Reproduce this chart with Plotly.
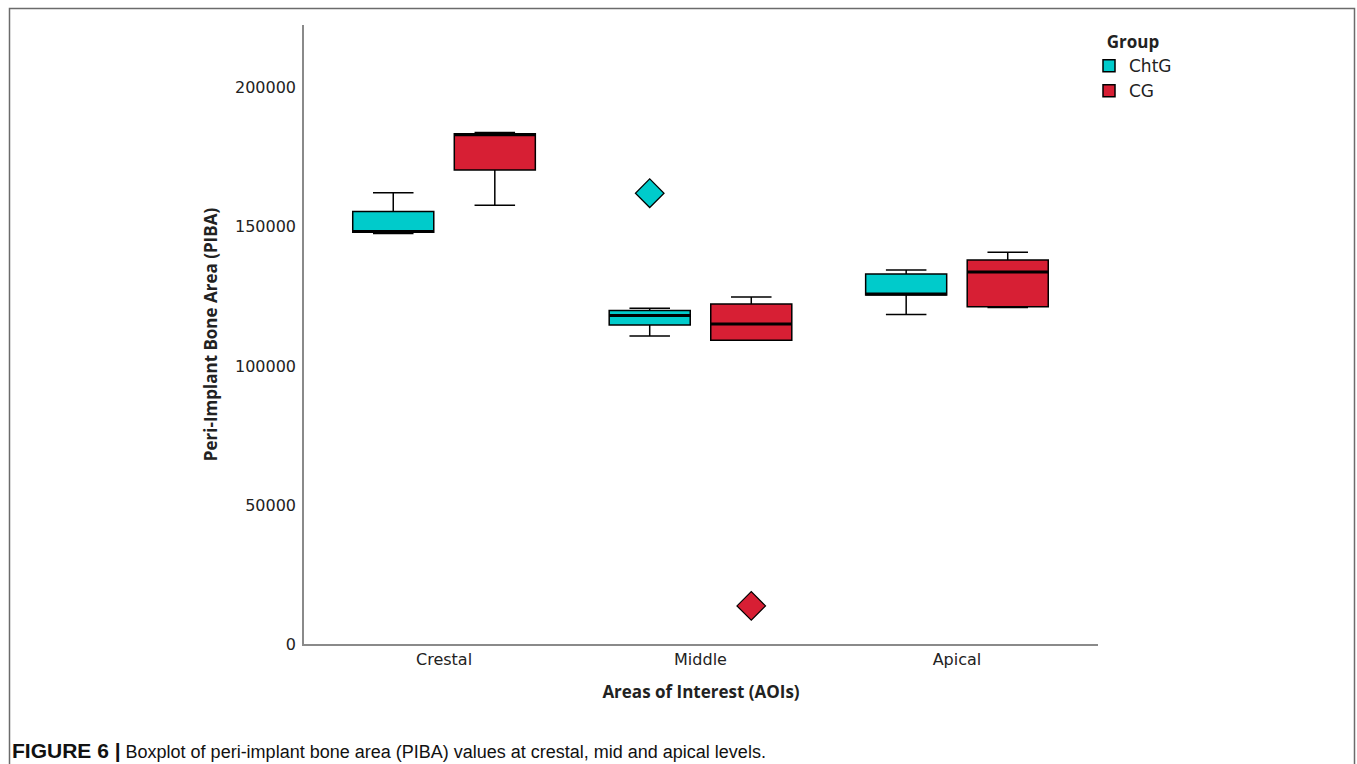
import plotly.graph_objects as go

# ---- data ----
categories = ["Crestal", "Middle", "Apical"]
groups = ["ChtG", "CG"]

chtg_lower = [147600, 110800, 118500]
chtg_q1 = [148100, 114700, 125500]
chtg_median = [148300, 118100, 125900]
chtg_q3 = [155500, 119900, 133100]
chtg_upper = [162300, 120700, 134500]

cg_lower = [157800, 109200, 121000]
cg_q1 = [170500, 109200, 121300]
cg_median = [183100, 115100, 133800]
cg_q3 = [183500, 122300, 138100]
cg_upper = [183900, 124800, 140900]

# outliers: (category, value)
chtg_outlier_cat = ["Middle"]
chtg_outlier_val = [162100]
cg_outlier_cat = ["Middle"]
cg_outlier_val = [13700]

y_ticks = [0, 50000, 100000, 150000, 200000]

# ---- style ----
colors = {"ChtG": "#00CBCB", "CG": "#D71F34"}
offsets = {"ChtG": -0.198, "CG": 0.198}
box_w = 0.316
font_tick = "DejaVu Sans"
font_title = "Open Sans"

series = {
    "ChtG": dict(lower=chtg_lower, q1=chtg_q1, med=chtg_median, q3=chtg_q3, upper=chtg_upper,
                 ocat=chtg_outlier_cat, oval=chtg_outlier_val),
    "CG": dict(lower=cg_lower, q1=cg_q1, med=cg_median, q3=cg_q3, upper=cg_upper,
               ocat=cg_outlier_cat, oval=cg_outlier_val),
}

fig = go.Figure()
idx = {c: i for i, c in enumerate(categories)}

for g in groups:
    s = series[g]
    xs = [i + offsets[g] for i in range(len(categories))]
    fig.add_trace(go.Box(
        name=g, x=xs, q1=s["q1"], median=s["med"], q3=s["q3"],
        lowerfence=s["lower"], upperfence=s["upper"],
        width=box_w, whiskerwidth=0.5,
        fillcolor=colors[g], line=dict(color="black", width=1.5),
        boxpoints=False, hoverinfo="skip",
    ))

for g in groups:
    s = series[g]
    # thicker median lines
    mx, my = [], []
    for i, m in enumerate(s["med"]):
        c = i + offsets[g]
        mx += [c - box_w / 2, c + box_w / 2, None]
        my += [m, m, None]
    fig.add_trace(go.Scatter(x=mx, y=my, mode="lines", line=dict(color="black", width=3),
                             showlegend=False, hoverinfo="skip"))
    # outliers
    fig.add_trace(go.Scatter(
        x=[idx[c] + offsets[g] for c in s["ocat"]], y=s["oval"], mode="markers",
        marker=dict(symbol="diamond", size=22, color=colors[g], line=dict(color="black", width=1.2)),
        showlegend=False, hoverinfo="skip"))

W, H = 1357, 764
L, R, T, B = 304, 259, 25, 120
pw, ph = W - L - R, H - T - B


def px_x(p):
    return (p - L) / pw


def px_y(p):
    return (H - B - p) / ph


fig.update_layout(
    width=W, height=H,
    margin=dict(l=L, r=R, t=T, b=B, pad=0),
    paper_bgcolor="white", plot_bgcolor="white",
    font=dict(family=font_tick, size=16, color="#222222"),
    showlegend=True,
    legend=dict(
        title=dict(text="<b>Group</b>", font=dict(size=17, family=font_title), side="top center"),
        x=px_x(1089), y=px_y(26), xanchor="left", yanchor="top",
        font=dict(size=17, family=font_tick), itemwidth=30,
        tracegroupgap=0, bgcolor="rgba(0,0,0,0)",
    ),
    xaxis=dict(
        range=[-0.546, 2.55], tickmode="array", tickvals=list(range(len(categories))),
        ticktext=categories, showgrid=False, zeroline=False, ticks="",
        showline=True, linecolor="#8a8a8a", linewidth=1.5,
        tickfont=dict(size=16, family=font_tick),
        title=dict(text="<b>Areas of Interest (AOIs)</b>", font=dict(size=17, family=font_title), standoff=18),
    ),
    yaxis=dict(
        range=[0, 222600], tickmode="array", tickvals=y_ticks,
        ticktext=[str(v) for v in y_ticks], showgrid=False, zeroline=False, ticks="",
        showline=True, linecolor="#8a8a8a", linewidth=1.5,
        tickfont=dict(size=16, family=font_tick), ticklabelstandoff=3,
        title=dict(text="<b>Peri-Implant Bone Area (PIBA)</b>", font=dict(size=17, family=font_title), standoff=13),
    ),
    shapes=[dict(type="rect", xref="paper", yref="paper",
                 x0=px_x(9.5), x1=px_x(1354.5), y0=px_y(790), y1=px_y(8.5),
                 line=dict(color="#6b6b6b", width=1.5), fillcolor="rgba(0,0,0,0)", layer="below")],
    annotations=[dict(
        xref="paper", yref="paper", x=px_x(10), y=px_y(750), xanchor="left", yanchor="middle",
        text="<span style='font-size:21px'><b>FIGURE 6 |</b></span> Boxplot of peri-implant bone area (PIBA) values at crestal, mid and apical levels.",
        showarrow=False, font=dict(family="Liberation Sans", size=18, color="#111111"))],
)

fig.write_html("out.html", config={"displayModeBar": False},
               post_script="document.body.style.margin='0';document.body.style.padding='0';")
